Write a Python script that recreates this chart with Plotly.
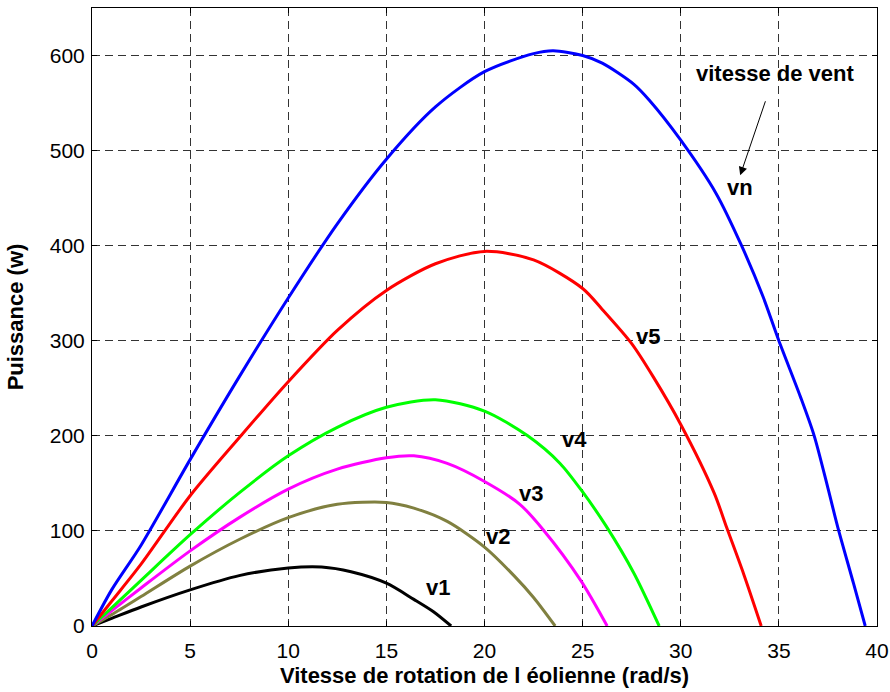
import plotly.graph_objects as go

# --- data ---
vn_x = [0, 1, 2.5, 5, 7.5, 10, 12.5, 15, 17.5, 20, 22.5, 23.5, 25, 26, 27.6, 28.4, 30, 31.8, 33.1, 34.2, 35, 36.1, 36.8, 37.5, 38, 38.8, 39.4]
vn_y = [0, 38, 85, 175, 262, 345, 423, 491, 546, 583, 602, 605, 600, 592, 570, 553, 511, 455, 400, 346, 300, 241, 200, 145, 104, 45, 0]

v5_x = [0, 1, 2.5, 5, 7.5, 10, 12.5, 15, 17.5, 20, 22.5, 25, 26, 27.5, 28.6, 30, 31.7, 32.35, 33.2, 34.1]
v5_y = [0, 26, 65, 137, 198, 257, 311, 353, 381, 394, 385, 355, 333, 297, 262, 212, 140, 103, 55, 0]

v4_x = [0, 1, 2.5, 5, 7.5, 10, 12.5, 15, 17.5, 20, 22.2, 23.85, 25, 26.2, 27.6, 28.9]
v4_y = [0, 19, 48, 96, 140, 179, 209, 230, 238, 226, 200, 171, 141, 105, 56, 0]

v3_x = [0, 1, 2.5, 5, 7.5, 10, 12.5, 15, 16.4, 18.1, 20, 21.8, 23, 24.9, 26.25]
v3_y = [0, 16, 40, 79, 114, 144, 165, 177, 179, 171, 152, 128, 101, 48, 0]

v2_x = [0, 1, 2.5, 5, 7.5, 10, 12.5, 15, 16.4, 18.1, 20, 21.5, 22.5, 23.6]
v2_y = [0, 12, 31, 63, 91, 114, 128, 130, 124, 110, 83, 53, 30, 0]

v1_x = [0, 1, 2.5, 5, 7.5, 10, 11.7, 13.2, 15, 16.4, 17.4, 18.3]
v1_y = [0, 8, 20, 38, 53, 61, 62, 57, 45, 28, 15, 0]

series = [
    ("v1", v1_x, v1_y, "#000000"),
    ("v2", v2_x, v2_y, "#808040"),
    ("v3", v3_x, v3_y, "#FF00FF"),
    ("v4", v4_x, v4_y, "#00FF00"),
    ("v5", v5_x, v5_y, "#FF0000"),
    ("vn", vn_x, vn_y, "#0000FF"),
]

label_names = ["v1", "v2", "v3", "v4", "v5", "vn"]
label_x = [17.65, 20.7, 22.36, 24.58, 28.35, 33.0]
label_y = [41, 94, 139, 196, 305, 461]

x_ticks = [0, 5, 10, 15, 20, 25, 30, 35, 40]
y_ticks = [0, 100, 200, 300, 400, 500, 600]

FONT = "Liberation Sans, Arial, sans-serif"

fig = go.Figure()
for name, xs, ys, col in series:
    fig.add_trace(go.Scatter(x=xs, y=ys, mode="lines", name=name,
                             line=dict(color=col, width=3, shape="spline", smoothing=0.8),
                             showlegend=False))

for t, lx, ly in zip(label_names, label_x, label_y):
    fig.add_annotation(x=lx, y=ly, xref="x", yref="y", text="<b>%s</b>" % t,
                       showarrow=False, font=dict(family=FONT, size=22, color="black"))

fig.add_annotation(x=34.81, y=581.5, xref="x", yref="y", text="<b>vitesse de vent</b>",
                   showarrow=False, font=dict(family=FONT, size=22, color="black"))
fig.add_annotation(x=33.03, y=474, ax=34.34, ay=553.5, xref="x", yref="y",
                   axref="x", ayref="y", text="", showarrow=True,
                   arrowhead=2, arrowsize=1.7, arrowwidth=1, arrowcolor="black")

axis_common = dict(
    showline=True, linecolor="black", linewidth=1, mirror="ticks",
    ticks="inside", ticklen=5, tickcolor="black", tickwidth=1,
    showgrid=True, gridcolor="#333333", gridwidth=1, griddash="8px,5px",
    zeroline=False, tickfont=dict(family=FONT, size=21, color="black"),
    automargin=False,
)

fig.update_xaxes(range=[0, 40], tickvals=x_ticks, ticktext=[str(v) for v in x_ticks],
                 ticklabelstandoff=6,
                 title=dict(text="<b>Vitesse de rotation de l éolienne (rad/s)</b>",
                            font=dict(family=FONT, size=22, color="black"), standoff=6),
                 **axis_common)
fig.update_yaxes(range=[0, 650], tickvals=y_ticks, ticktext=[str(v) for v in y_ticks],
                 ticklabelstandoff=2,
                 title=dict(text="<b>Puissance (w)</b>",
                            font=dict(family=FONT, size=22, color="black"), standoff=20),
                 **axis_common)

fig.update_layout(width=890, height=692, margin=dict(l=92, r=13, t=8, b=66),
                  plot_bgcolor="white", paper_bgcolor="white")

fig.write_html("out.html", config={"displayModeBar": False},
               post_script="document.body.style.margin='0px';")
